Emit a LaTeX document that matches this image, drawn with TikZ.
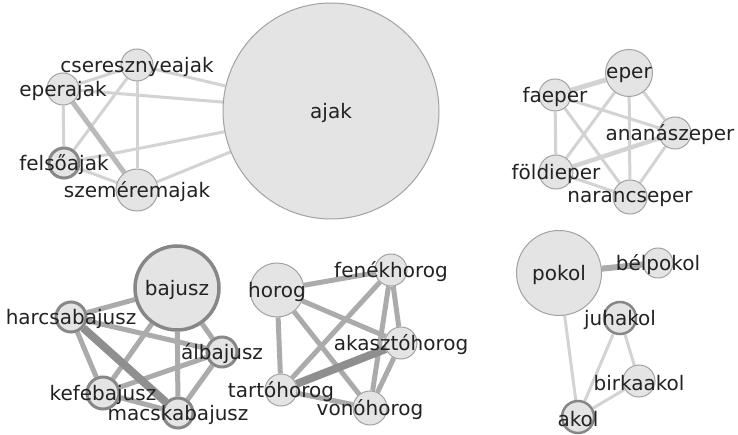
\documentclass[tikz,border=0pt]{standalone}
\usepackage{fontspec}
\setmainfont{DejaVu Sans}
\usetikzlibrary{backgrounds}
\definecolor{wordfill}{HTML}{E4E4E4}
\definecolor{rim}{HTML}{A2A2A2}
\definecolor{darkrim}{HTML}{878787}
\definecolor{lightedge}{HTML}{D3D3D3}
\definecolor{midedge}{HTML}{ABABAB}
\definecolor{darkedge}{HTML}{8F8F8F}
\definecolor{ink}{HTML}{222222}
\tikzset{
  word/.style={circle, fill=wordfill, draw=rim, line width=1pt, inner sep=0pt, minimum size=#1},
  word/.default=32pt,
  heavy/.style={draw=darkrim, line width=3pt},
  weak/.style={draw=lightedge, line width=3pt},
  mid/.style={draw=midedge, line width=5pt},
  strong/.style={draw=darkedge, line width=8pt},
  every label/.style={font=\fontsize{20}{22}\selectfont, text=ink, yshift=-2pt},
}
\begin{document}
\begin{tikzpicture}[x=1pt, y=-1pt]
\useasboundingbox (0,0) rectangle (738,435);
% ajak
\node[word=216pt, label=center:ajak] (ajak) at (331,111) {};
\node[word, label=center:cseresznyeajak] (cseresznyeajak) at (137,65) {};
\node[word, label=center:eperajak] (eperajak) at (63,89) {};
\node[word=30pt, heavy, label=center:felsőajak] (felsoajak) at (64,163) {};
\node[word=42pt, label=center:szeméremajak] (szemeremajak) at (137,190) {};
% eper
\node[word=47pt, label=center:eper] (eper) at (629,73) {};
\node[word, label=center:faeper] (faeper) at (555,95) {};
\node[word, label={[xshift=-5pt]center:ananászeper}] (ananaszeper) at (675,133) {};
\node[word=34pt, label=center:földieper] (foldieper) at (556,172) {};
\node[word=34pt, label=center:narancseper] (narancseper) at (630,197) {};
% bajusz
\node[word=84pt, heavy, line width=3.5pt, label=center:bajusz] (bajusz) at (177,288) {};
\node[word=30pt, heavy, label=center:harcsabajusz] (harcsabajusz) at (71,317) {};
\node[word=30pt, heavy, label=center:álbajusz] (albajusz) at (222,352) {};
\node[word, heavy, label=center:kefebajusz] (kefebajusz) at (103,393) {};
\node[word=30pt, heavy, label=center:macskabajusz] (macskabajusz) at (178,413) {};
% horog
\node[word=54pt, label=center:horog] (horog) at (277,290) {};
\node[word, label=center:fenékhorog] (fenekhorog) at (391,270) {};
\node[word, label=center:akasztóhorog] (akasztohorog) at (401,343) {};
\node[word, label=center:tartóhorog] (tartohorog) at (281,390) {};
\node[word=34pt, label=center:vonóhorog] (vonohorog) at (370,408) {};
% kol
\node[word=85pt, label=center:pokol] (pokol) at (559,273) {};
\node[word=30pt, label=center:bélpokol] (belpokol) at (658,263) {};
\node[word, heavy, line width=2.5pt, label=center:juhakol] (juhakol) at (620,318) {};
\node[word, label=center:birkaakol] (birkaakol) at (639,381) {};
\node[word, heavy, line width=2.5pt, label=center:akol] (akol) at (578,417) {};

\begin{scope}[on background layer]
\foreach \a/\b in {ajak/cseresznyeajak, ajak/eperajak, ajak/felsoajak, ajak/szemeremajak,
    eperajak/cseresznyeajak, eperajak/felsoajak, cseresznyeajak/felsoajak,
    cseresznyeajak/szemeremajak, felsoajak/szemeremajak}
  \draw[weak] (\a) -- (\b);
\draw[weak, draw=black!27, line width=5pt] (eperajak) -- (szemeremajak);
\foreach \a/\b in {eper/ananaszeper, eper/foldieper, eper/narancseper, faeper/ananaszeper,
    faeper/foldieper, faeper/narancseper, ananaszeper/narancseper, foldieper/narancseper}
  \draw[weak] (\a) -- (\b);
\draw[weak, line width=5pt] (eper) -- (faeper);
\draw[weak, line width=4.5pt] (ananaszeper) -- (foldieper);
\foreach \a/\b in {bajusz/harcsabajusz, bajusz/albajusz, bajusz/kefebajusz, bajusz/macskabajusz,
    harcsabajusz/albajusz, harcsabajusz/kefebajusz, albajusz/kefebajusz,
    albajusz/macskabajusz, kefebajusz/macskabajusz}
  \draw[mid] (\a) -- (\b);
\draw[strong] (harcsabajusz) -- (macskabajusz);
\foreach \a/\b in {horog/fenekhorog, horog/akasztohorog, horog/tartohorog, horog/vonohorog,
    fenekhorog/akasztohorog, fenekhorog/tartohorog, fenekhorog/vonohorog,
    akasztohorog/vonohorog, tartohorog/vonohorog}
  \draw[mid] (\a) -- (\b);
\draw[strong] (akasztohorog) -- (tartohorog);
\draw[mid, line width=6pt] (pokol) -- (belpokol);
\foreach \a/\b in {pokol/akol, juhakol/akol, juhakol/birkaakol, birkaakol/akol}
  \draw[weak] (\a) -- (\b);
\end{scope}
\end{tikzpicture}
\end{document}
